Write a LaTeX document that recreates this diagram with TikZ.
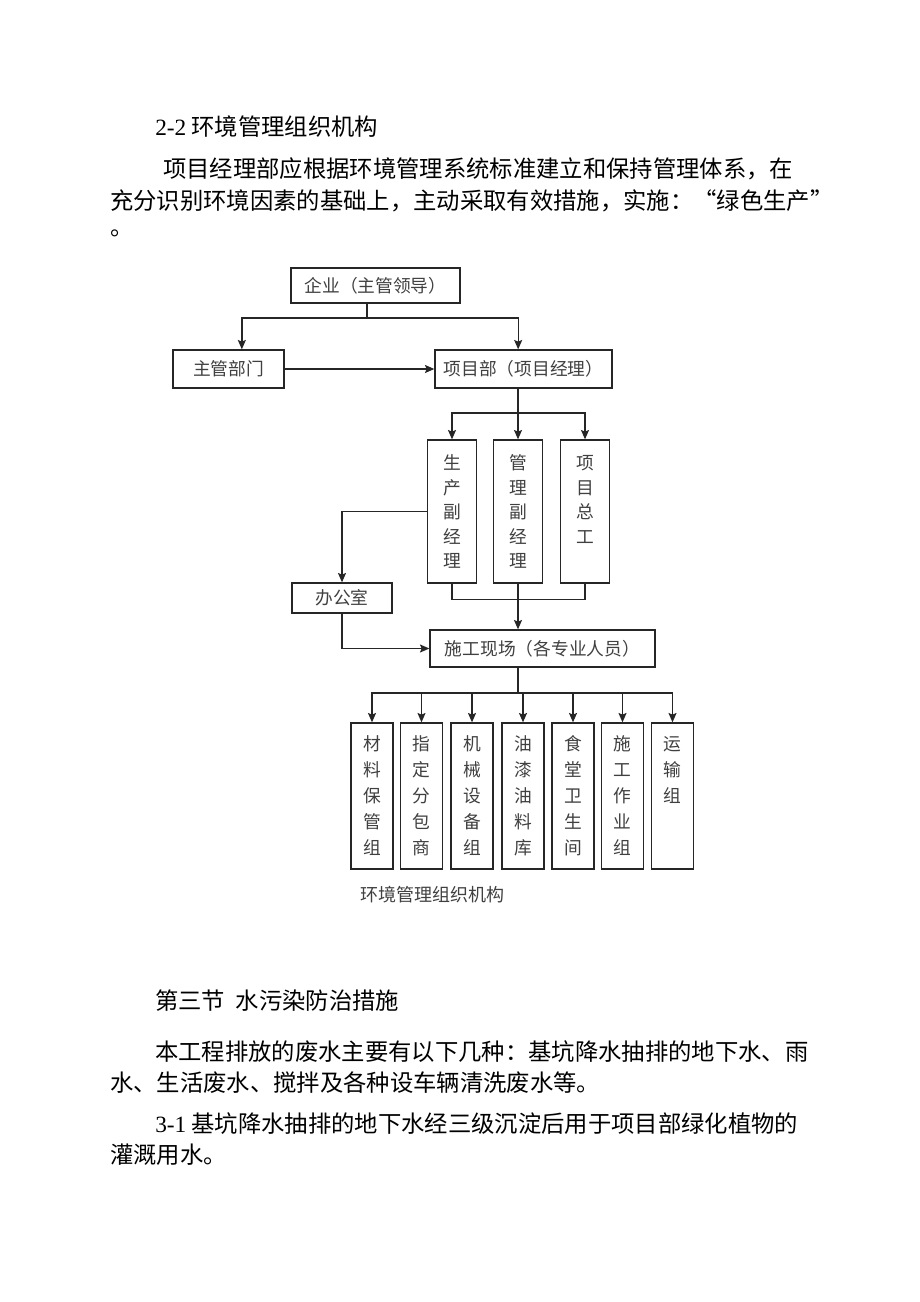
\documentclass[tikz,border=0pt]{standalone}
\usepackage{fontspec}
\setmainfont{Liberation Serif}
\newfontfamily\cjk{Noto Sans CJK SC}
\usetikzlibrary{arrows.meta}

\begin{document}
\begin{tikzpicture}
      [x=0.75pt,y=-0.75pt,
       body/.style={anchor=west,inner sep=0pt,text=black,
         font=\cjk\fontsize{17.5}{21}\selectfont},
       hbox/.style={rectangle,draw=black!85,line width=1pt,inner sep=0pt,
         text=black!75,font=\cjk\fontsize{13.3}{16}\selectfont},
       vbox/.style={hbox,align=center,minimum width=36.75pt,minimum height=107.25pt,
         font=\cjk\fontsize{13.3}{18.4}\selectfont},
       lbox/.style={hbox,align=center,minimum width=31.5pt,minimum height=109.5pt,
         font=\cjk\fontsize{13.3}{19.5}\selectfont},
       arr/.style={-{Stealth[length=7pt,width=6pt,inset=1.2pt]}},
       link/.style={draw=black!85,line width=1pt}]
      \fill[white] (0,0) rectangle (920,1302);
      \useasboundingbox (0,0) rectangle (920,1302);

      % text above the chart
      \node (h22) at (155,127) [body] {{\rmfamily 2-2} 环境管理组织机构};
      \node (p1a) at (163,169) [body] {项目经理部应根据环境管理系统标准建立和保持管理体系，在};
      \node (p1b) at (110,201) [body] {充分识别环境因素的基础上，主动采取有效措施，实施：“绿色生产”};
      \node (p1c) at (110,233) [body] {。};

      % chart
      \node (qy) at (375.5,285.5) [hbox,minimum width=126.75pt,minimum height=26.25pt] {企业（主管领导）};
      \node (zg) at (228.5,369) [hbox,minimum width=83.25pt,minimum height=28.5pt] {主管部门};
      \node (xm) at (523.5,369) [hbox,minimum width=132.75pt,minimum height=28.5pt] {项目部（项目经理）};

      \node (v1) at (452,511.5) [vbox] {生\\产\\副\\经\\理};
      \node (v2) at (518,511.5) [vbox] {管\\理\\副\\经\\理};
      \node (v3) at (585,511.5) [vbox] {项\\目\\总\\工\\~};

      \node (bg) at (342,598) [hbox,minimum width=75pt,minimum height=22.5pt] {办公室};
      \node (sg) at (542.5,648.5) [hbox,minimum width=168.75pt,minimum height=27.75pt] {施工现场（各专业人员）};

      \node (b1) at (372,796) [lbox] {材\\料\\保\\管\\组};
      \node (b2) at (421.5,796) [lbox] {指\\定\\分\\包\\商};
      \node (b3) at (472,796) [lbox] {机\\械\\设\\备\\组};
      \node (b4) at (523,796) [lbox] {油\\漆\\油\\料\\库};
      \node (b5) at (573,796) [lbox] {食\\堂\\卫\\生\\间};
      \node (b6) at (622.5,796) [lbox] {施\\工\\作\\业\\组};
      \node (b7) at (672.5,796) [lbox] {运\\输\\组\\~\\~};

      \node (cap) at (360,895) [body,text=black!75,font=\cjk\fontsize{13.5}{16}\selectfont] {环境管理组织机构};

      \coordinate (s1) at (367,318);
      \coordinate (s2) at (518,413);
      \coordinate (s4) at (518,693);

      \draw[link] (s1 |- qy.south) -- (s1);
      \draw[link,arr] (s1) -| ([xshift=10pt]zg.north);
      \draw[link,arr] (s1) -| ([xshift=-4pt]xm.north);
      \draw[link,arr] (zg.east) -- (xm.west);

      \draw[link] (s2 |- xm.south) -- (s2);
      \draw[link,arr] (s2) -| (v1.north);
      \draw[link,arr] (s2) -- (v2.north);
      \draw[link,arr] (s2) -| (v3.north);

      \draw[link,arr] (v1.west) -| (bg.north);
      \draw[link] (v1.south) -- ++(0,16) -| (v3.south);
      \draw[link,arr] (v2.south) -- (v2.south |- sg.north);
      \draw[link,arr] (bg.south) |- (sg.west);

      \draw[link] (s4 |- sg.south) -- (s4);
      \draw[link,arr] (s4) -| (b1.north);
      \draw[link,arr] (s4) -| (b2.north);
      \draw[link,arr] (s4) -| (b3.north);
      \draw[link,arr] (s4) -| (b4.north);
      \draw[link,arr] (s4) -| (b5.north);
      \draw[link,arr] (s4) -| (b6.north);
      \draw[link,arr] (s4) -| (b7.north);

      % text below the chart
      \node (t3) at (155,1001) [body] {第三节\ \ 水污染防治措施};
      \node (p2a) at (155,1052) [body] {本工程排放的废水主要有以下几种：基坑降水抽排的地下水、雨};
      \node (p2b) at (110,1083) [body] {水、生活废水、搅拌及各种设车辆清洗废水等。};
      \node (p3a) at (155,1124) [body] {{\rmfamily 3-1} 基坑降水抽排的地下水经三级沉淀后用于项目部绿化植物的};
      \node (p3b) at (110,1155) [body] {灌溉用水。};
\end{tikzpicture}
\end{document}
